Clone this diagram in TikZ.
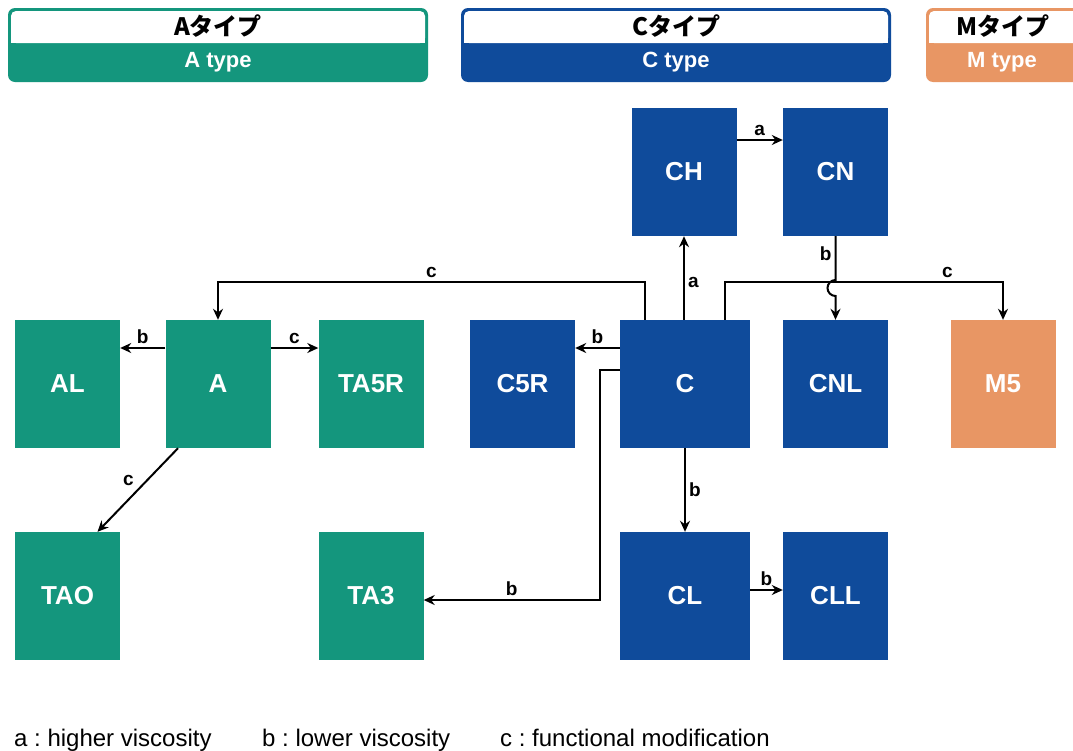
\documentclass[tikz,border=0pt]{standalone}
\usepackage{fontspec}
\setmainfont{Liberation Sans}
\newfontfamily\jpfont{Noto Sans CJK JP}
\usetikzlibrary{arrows.meta}
\definecolor{agreen}{HTML}{14967D}
\definecolor{cblue}{HTML}{0F4B9B}
\definecolor{morange}{HTML}{E89664}
\frenchspacing
\begin{document}
\begin{tikzpicture}[
        x=1pt, y=-1pt,
        box/.style={minimum width=105pt, minimum height=128pt, inner sep=0pt, text=white, font=\fontsize{26}{30}\selectfont\bfseries},
        wide/.style={minimum width=130pt},
        greenn/.style={box, fill=agreen},
        bluen/.style={box, fill=cblue},
        orangen/.style={box, fill=morange},
        conn/.style={draw, line width=2pt, -{Stealth[length=11pt,width=10pt]}},
        lbl/.style={font=\fontsize{19}{21}\selectfont\bfseries, inner sep=3pt},
        jp/.style={font=\jpfont\fontsize{24}{26}\selectfont\bfseries},
        en/.style={font=\fontsize{22}{24}\selectfont\bfseries, text=white},
        legend/.style={font=\fontsize{24}{26}\selectfont, anchor=base west, inner sep=0pt},
    ]
    \clip (0,0) rectangle (1073,750);
    \fill[white] (0,0) rectangle (1073,750);

    % type headers
    \fill[agreen, rounded corners=7pt] (8,8) rectangle (428,82);
    \fill[white, rounded corners=5pt] (11,11) rectangle (425,43);
    \fill[white] (11,30) rectangle (425,43);
    \node[jp] (hA) at (218,26) {Aタイプ};
    \node[en] (hAen) at (218,62) {A type};

    \fill[cblue, rounded corners=7pt] (461,8) rectangle (891,82);
    \fill[white, rounded corners=5pt] (464,11) rectangle (888,43);
    \fill[white] (464,30) rectangle (888,43);
    \node[jp] (hC) at (676,26) {Cタイプ};
    \node[en] (hCen) at (676,62) {C type};

    \fill[morange, rounded corners=7pt] (926,8) rectangle (1100,82);
    \fill[white, rounded corners=5pt] (929,11) rectangle (1097,43);
    \fill[white] (929,30) rectangle (1097,43);
    \node[jp] (hM) at (1003,26) {Mタイプ};
    \node[en] (hMen) at (1002,62) {M type};

    % grades
    \node[bluen] (CH) at (684,172) {CH};
    \node[bluen] (CN) at (835.5,172) {CN};
    \node[greenn] (AL) at (67.5,384) {AL};
    \node[greenn] (A) at (218,384) {A};
    \node[greenn] (TA5R) at (371,384) {TA5R};
    \node[bluen] (C5R) at (522.5,384) {C5R};
    \node[bluen, wide] (C) at (685,384) {C};
    \node[bluen] (CNL) at (835.5,384) {CNL};
    \node[orangen] (M5) at (1003,384) {M5};
    \node[greenn] (TAO) at (67.5,596) {TAO};
    \node[greenn] (TA3) at (371,596) {TA3};
    \node[bluen, wide] (CL) at (685,596) {CL};
    \node[bluen] (CLL) at (835.5,596) {CLL};

    % arrows
    \draw[conn] ([yshift=32pt]CH.east) -- node[lbl, above]{a} ([yshift=32pt]CN.west);
    \draw[conn] (CH.south |- C.north) -- node[lbl, right, pos=0.45]{a} (CH.south);
    \draw[conn] ([xshift=-40pt]C.north) -- ++(0,-38) -| node[lbl, above, pos=0.25]{c} (A.north);
    \draw[conn] ([xshift=40pt]C.north) -- ++(0,-38) -| node[lbl, above, pos=0.4]{c} (M5.north);
    \draw[conn] (CN.south) -- node[lbl, left, pos=0.4]{b} (CN.south |- 0,280)
        arc[start angle=90, end angle=270, radius=8pt] -- (CNL.north);
    \draw[conn] ([yshift=36pt]C.west) -- node[lbl, above]{b} ([yshift=36pt]C5R.east);
    \draw[conn] ([yshift=14pt]C.west) -- ++(-20,0) |- node[lbl, above, pos=0.75]{b} ([yshift=-4pt]TA3.east);
    \draw[conn] ([yshift=36pt]A.west) -- node[lbl, above]{b} ([yshift=36pt]AL.east);
    \draw[conn] ([yshift=36pt]A.east) -- node[lbl, above]{c} ([yshift=36pt]TA5R.west);
    \draw[conn] ([xshift=-40pt]A.south) -- node[lbl, above left]{c} ([xshift=30pt]TAO.north);
    \draw[conn] (C.south) -- node[lbl, right]{b} (CL.north);
    \draw[conn] ([yshift=6pt]CL.east) -- node[lbl, above]{b} ([yshift=6pt]CLL.west);

    % legend
    \node[legend] (la) at (14,746) {a : higher viscosity};
    \node[legend] (lb) at (262,746) {b : lower viscosity};
    \node[legend] (lc) at (500,746) {c : functional modification};
\end{tikzpicture}
\end{document}
